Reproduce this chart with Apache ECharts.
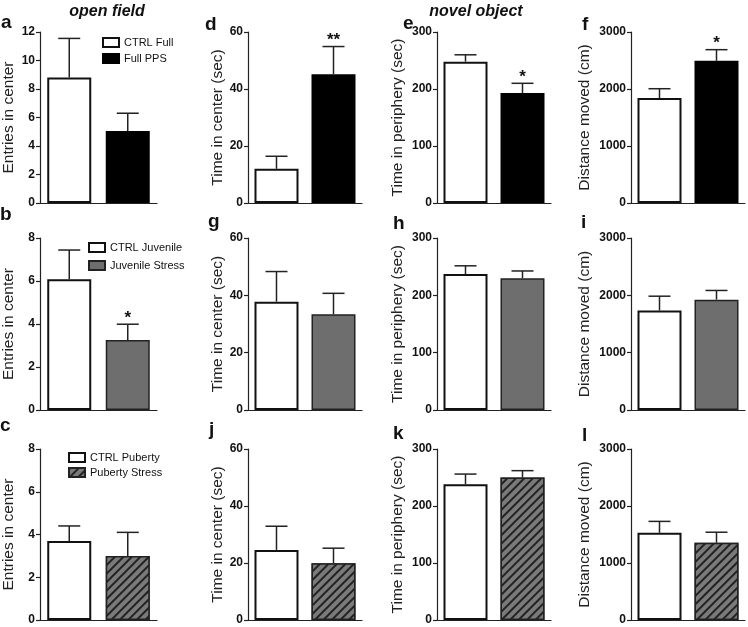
<!DOCTYPE html>
<html>
<head>
<meta charset="utf-8">
<script src="https://cdn.jsdelivr.net/npm/echarts@6/dist/echarts.min.js"></script>
<style>html,body{margin:0;padding:0;background:#fff;}#chart{width:748px;height:627px;}</style>
</head>
<body>
<div id="chart"></div>
<script>
// ---- data ----
const categories = ['CTRL', 'Stress'];
const aMean = [8.8, 5.05],   aSem = [2.75, 1.25], aSig = ['', ''];
const dMean = [12, 45.2],    dSem = [4.4, 9.7],   dSig = ['', '**'];
const eMean = [248, 193],    eSem = [12, 17],     eSig = ['', '*'];
const fMean = [1840, 2495],  fSem = [165, 195],   fSig = ['', '*'];
const bMean = [6.08, 3.26],  bSem = [1.36, 0.73], bSig = ['', '*'];
const gMean = [37.8, 33.4],  gSem = [10.5, 7.3],  gSig = ['', ''];
const hMean = [237, 230],    hSem = [14.5, 12.5], hSig = ['', ''];
const iMean = [1735, 1925],  iSem = [250, 160],   iSig = ['', ''];
const cMean = [3.7, 3.0],    cSem = [0.7, 1.1],   cSig = ['', ''];
const jMean = [24.6, 19.9],  jSem = [8.3, 5.3],   jSig = ['', ''];
const kMean = [238, 250],    kSem = [18, 12],     kSig = ['', ''];
const lMean = [1530, 1355],  lSem = [200, 185],   lSig = ['', ''];
const groupNames = [['CTRL Full', 'Full PPS'], ['CTRL Juvenile', 'Juvenile Stress'], ['CTRL Puberty', 'Puberty Stress']];
const yNames = ['Entries in center', 'Time in center (sec)', 'Time in periphery (sec)', 'Distance moved (cm)'];
const yMaxRow0 = [12, 60, 300, 3000];
const yMaxOther = [8, 60, 300, 3000];
const yIntervalRow0 = [2, 20, 100, 1000];
const yIntervalOther = [2, 20, 100, 1000];
const titles = ['open field', 'novel object'];

// ---- layout ----
const FONT = 'Liberation Sans, Arial, Helvetica, sans-serif';
const cols = [{left: 38, width: 119}, {left: 248, width: 114}, {left: 437, width: 114}, {left: 631, width: 114}];
const rows = [{top: 32, bottom: 203}, {top: 238, bottom: 410}, {top: 449, bottom: 620}];
const nameGaps = [23, 22, 31, 38];

const panels = [
  {L: 'a', r: 0, c: 0, m: aMean, s: aSem, sig: aSig, lx: 1,   ly: 23},
  {L: 'd', r: 0, c: 1, m: dMean, s: dSem, sig: dSig, lx: 205, ly: 25},
  {L: 'e', r: 0, c: 2, m: eMean, s: eSem, sig: eSig, lx: 403, ly: 24},
  {L: 'f', r: 0, c: 3, m: fMean, s: fSem, sig: fSig, lx: 582, ly: 25},
  {L: 'b', r: 1, c: 0, m: bMean, s: bSem, sig: bSig, lx: 0,   ly: 215},
  {L: 'g', r: 1, c: 1, m: gMean, s: gSem, sig: gSig, lx: 208, ly: 222},
  {L: 'h', r: 1, c: 2, m: hMean, s: hSem, sig: hSig, lx: 393, ly: 224},
  {L: 'i', r: 1, c: 3, m: iMean, s: iSem, sig: iSig, lx: 581, ly: 223},
  {L: 'c', r: 2, c: 0, m: cMean, s: cSem, sig: cSig, lx: 0,   ly: 426},
  {L: 'j', r: 2, c: 1, m: jMean, s: jSem, sig: jSig, lx: 209, ly: 430},
  {L: 'k', r: 2, c: 2, m: kMean, s: kSem, sig: kSig, lx: 393, ly: 434},
  {L: 'l', r: 2, c: 3, m: lMean, s: lSem, sig: lSig, lx: 582, ly: 436}
];

const ctrlStyle = {color: '#ffffff', borderColor: '#111', borderWidth: 2};
const treatStyles = [
  {color: '#000000', borderColor: '#000', borderWidth: 1.5},
  {color: '#6e6e6e', borderColor: '#222', borderWidth: 1.5},
  {color: '#7a7a7a', borderColor: '#222', borderWidth: 1.5,
   decal: {symbol: 'rect', symbolSize: 1, color: '#222222', backgroundColor: '#7a7a7a',
           dashArrayX: [1, 0], dashArrayY: [2, 4], rotation: -Math.PI / 4}}
];

const grid = [], xAxis = [], yAxis = [], series = [], graphic = [];
panels.forEach((p, i) => {
  const col = cols[p.c], row = rows[p.r];
  grid.push({left: col.left, width: col.width, top: row.top, height: row.bottom - row.top, containLabel: false});
  xAxis.push({type: 'category', gridIndex: i, data: categories,
    axisLine: {lineStyle: {color: '#222', width: 1.2}}, axisTick: {show: false}, axisLabel: {show: false}});
  yAxis.push({type: 'value', gridIndex: i, min: 0,
    max: p.r === 0 ? yMaxRow0[p.c] : yMaxOther[p.c],
    interval: p.r === 0 ? yIntervalRow0[p.c] : yIntervalOther[p.c],
    name: yNames[p.c], nameLocation: 'middle', nameGap: nameGaps[p.c],
    nameTextStyle: {fontFamily: FONT, fontSize: 15.5, color: '#222'},
    axisLine: {show: true, lineStyle: {color: '#222', width: 1.2}},
    axisTick: {show: true, length: 4, lineStyle: {color: '#222', width: 1.2}},
    axisLabel: {fontFamily: FONT, fontSize: 12, fontWeight: 'bold', color: '#111', margin: 5,
      formatter: v => String(v)},
    splitLine: {show: false}});
  const names = groupNames[p.r];
  series.push({type: 'bar', name: names[0], xAxisIndex: i, yAxisIndex: i, data: [p.m[0], '-'],
    barWidth: 44, barGap: '-100%', itemStyle: ctrlStyle, animation: false});
  series.push({type: 'bar', name: names[1], xAxisIndex: i, yAxisIndex: i, data: ['-', p.m[1]],
    barWidth: 44, barGap: '-100%', itemStyle: treatStyles[p.r], animation: false});
  const sig = p.sig;
  series.push({type: 'custom', xAxisIndex: i, yAxisIndex: i, z: 5, animation: false, silent: true,
    encode: {x: 0, y: 2},
    data: categories.map((cName, k) => [k, p.m[k], p.m[k] + p.s[k]]),
    renderItem: function (params, api) {
      const x = api.value(0), v = api.value(1), e = api.value(2);
      const p0 = api.coord([x, v]), p1 = api.coord([x, e]);
      const children = [
        {type: 'line', shape: {x1: p0[0], y1: p0[1], x2: p1[0], y2: p1[1]}, style: {stroke: '#222', lineWidth: 1.5}},
        {type: 'line', shape: {x1: p1[0] - 11, y1: p1[1], x2: p1[0] + 11, y2: p1[1]}, style: {stroke: '#222', lineWidth: 1.5}}
      ];
      const t = sig[params.dataIndex];
      if (t) {
        children.push({type: 'text', style: {text: t, x: p1[0], y: p1[1] - 6, align: 'center', verticalAlign: 'middle',
          fontFamily: FONT, fontSize: 17, fontWeight: 'bold', fill: '#111'}});
      }
      return {type: 'group', children: children};
    }});
  graphic.push({type: 'text', x: p.lx, y: p.ly, style: {text: p.L, fontFamily: FONT, fontSize: 19, fontWeight: 'bold',
    fill: '#111', verticalAlign: 'middle'}});
});
graphic.push({type: 'text', x: 107, y: 12, style: {text: titles[0], fontFamily: FONT, fontSize: 16, fontWeight: 'bold',
  fontStyle: 'italic', fill: '#111', align: 'center', verticalAlign: 'middle'}});
graphic.push({type: 'text', x: 476, y: 12, style: {text: titles[1], fontFamily: FONT, fontSize: 16, fontWeight: 'bold',
  fontStyle: 'italic', fill: '#111', align: 'center', verticalAlign: 'middle'}});

const legendBase = {orient: 'vertical', icon: 'rect', itemWidth: 16, itemHeight: 9, selectedMode: false,
  textStyle: {fontFamily: FONT, fontSize: 11, color: '#111'}, padding: 0};
const legend = [
  Object.assign({}, legendBase, {data: groupNames[0], left: 102, top: 37, itemGap: 5}),
  Object.assign({}, legendBase, {data: groupNames[1], left: 88, top: 242, itemGap: 7}),
  Object.assign({}, legendBase, {data: groupNames[2], left: 68, top: 452, itemGap: 4})
];

const chart = echarts.init(document.getElementById('chart'), null, {renderer: 'canvas'});
chart.setOption({animation: false, backgroundColor: '#fff', grid, xAxis, yAxis, series, legend, graphic});
</script>
</body>
</html>
